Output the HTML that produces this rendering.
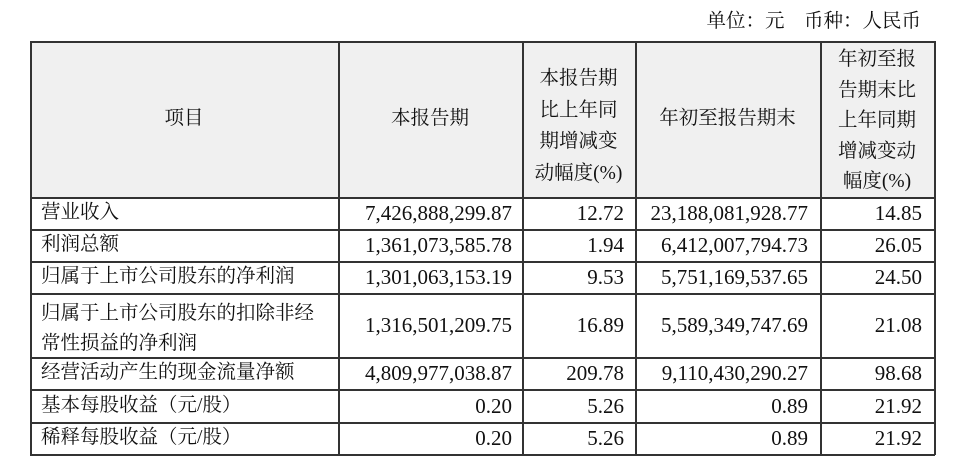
<!DOCTYPE html>
<html><head><meta charset="utf-8"><style>
body{margin:0;width:954px;height:465px;background:#fff;position:relative;overflow:hidden;font-family:"Liberation Serif","Noto Serif CJK SC","Noto Sans CJK SC",serif;font-size:19.5px;color:#111}
.t{position:absolute;white-space:nowrap;line-height:22px}
.r{text-align:right;font-size:21px}
.c{text-align:center}
.hl{position:absolute;height:1.5px;background:#333;left:30px;width:905px}
.vl{position:absolute;width:1.5px;background:#333;top:41px;height:414px}
</style></head><body>
<div style="position:absolute;left:30px;top:41px;width:905px;height:156px;background:#f0f0f0"></div>
<div class="hl" style="top:41px"></div>
<div class="hl" style="top:197px"></div>
<div class="hl" style="top:229px"></div>
<div class="hl" style="top:261px"></div>
<div class="hl" style="top:293px"></div>
<div class="hl" style="top:357px"></div>
<div class="hl" style="top:389px"></div>
<div class="hl" style="top:422px"></div>
<div class="hl" style="top:454px"></div>
<div class="vl" style="left:30px"></div>
<div class="vl" style="left:338px"></div>
<div class="vl" style="left:522px"></div>
<div class="vl" style="left:635px"></div>
<div class="vl" style="left:820px"></div>
<div class="vl" style="left:934px"></div>

<div class="t" style="right:33px;top:11px">单位：元　币种：人民币</div>

<div class="t c" style="left:30px;width:308px;top:108px">项目</div>
<div class="t c" style="left:338px;width:184px;top:108px">本报告期</div>
<div class="t c" style="left:522px;width:113px;top:63px;line-height:31.5px">本报告期<br>比上年同<br>期增减变<br>动幅度(%)</div>
<div class="t c" style="left:635px;width:185px;top:108px">年初至报告期末</div>
<div class="t c" style="left:820px;width:114px;top:45px;line-height:30.5px">年初至报<br>告期末比<br>上年同期<br>增减变动<br>幅度(%)</div>

<div class="t" style="left:41px;top:202px">营业收入</div>
<div class="t" style="left:41px;top:234px">利润总额</div>
<div class="t" style="left:41px;top:266px">归属于上市公司股东的净利润</div>
<div class="t" style="left:41px;top:299px;line-height:30px">归属于上市公司股东的扣除非经<br>常性损益的净利润</div>
<div class="t" style="left:41px;top:362px">经营活动产生的现金流量净额</div>
<div class="t" style="left:41px;top:395px">基本每股收益（元/股）</div>
<div class="t" style="left:41px;top:427px">稀释每股收益（元/股）</div>

<div class="t r" style="right:442px;top:202px">7,426,888,299.87</div>
<div class="t r" style="right:442px;top:234px">1,361,073,585.78</div>
<div class="t r" style="right:442px;top:266px">1,301,063,153.19</div>
<div class="t r" style="right:442px;top:314px">1,316,501,209.75</div>
<div class="t r" style="right:442px;top:362px">4,809,977,038.87</div>
<div class="t r" style="right:442px;top:395px">0.20</div>
<div class="t r" style="right:442px;top:427px">0.20</div>

<div class="t r" style="right:330px;top:202px">12.72</div>
<div class="t r" style="right:330px;top:234px">1.94</div>
<div class="t r" style="right:330px;top:266px">9.53</div>
<div class="t r" style="right:330px;top:314px">16.89</div>
<div class="t r" style="right:330px;top:362px">209.78</div>
<div class="t r" style="right:330px;top:395px">5.26</div>
<div class="t r" style="right:330px;top:427px">5.26</div>

<div class="t r" style="right:146px;top:202px">23,188,081,928.77</div>
<div class="t r" style="right:146px;top:234px">6,412,007,794.73</div>
<div class="t r" style="right:146px;top:266px">5,751,169,537.65</div>
<div class="t r" style="right:146px;top:314px">5,589,349,747.69</div>
<div class="t r" style="right:146px;top:362px">9,110,430,290.27</div>
<div class="t r" style="right:146px;top:395px">0.89</div>
<div class="t r" style="right:146px;top:427px">0.89</div>

<div class="t r" style="right:32px;top:202px">14.85</div>
<div class="t r" style="right:32px;top:234px">26.05</div>
<div class="t r" style="right:32px;top:266px">24.50</div>
<div class="t r" style="right:32px;top:314px">21.08</div>
<div class="t r" style="right:32px;top:362px">98.68</div>
<div class="t r" style="right:32px;top:395px">21.92</div>
<div class="t r" style="right:32px;top:427px">21.92</div>
</body></html>
